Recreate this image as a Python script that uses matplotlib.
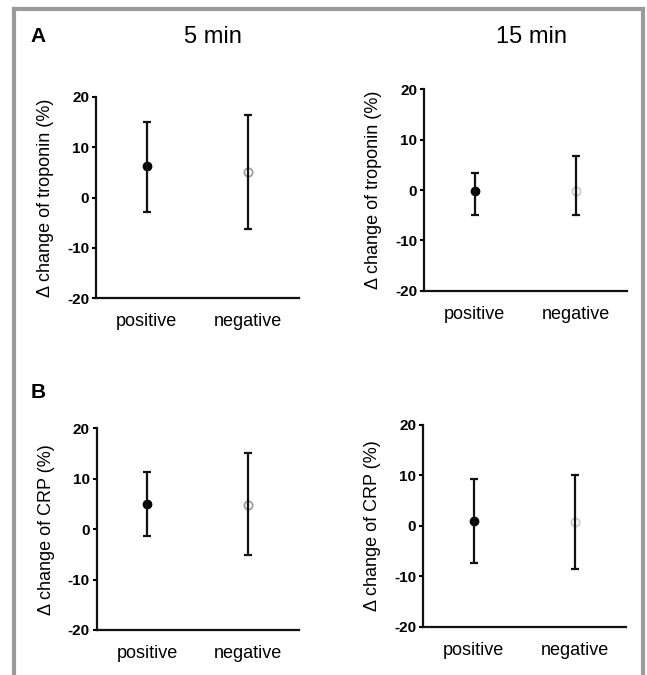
import matplotlib.pyplot as plt
from matplotlib.lines import Line2D

plt.rcParams['font.family'] = ['Liberation Sans', 'DejaVu Sans']

# groups on the x axis
groups = ["positive", "negative"]

# troponin, mean and error bar ends (%)
trop_5_mean = [6.2, 5.0]
trop_5_low = [-2.8, -6.3]
trop_5_high = [15.1, 16.5]
trop_15_mean = [-0.1, -0.1]
trop_15_low = [-5.0, -5.0]
trop_15_high = [3.4, 6.8]

# CRP, mean and error bar ends (%)
crp_5_mean = [5.0, 4.8]
crp_5_low = [-1.3, -5.2]
crp_5_high = [11.3, 15.1]
crp_15_mean = [1.0, 0.7]
crp_15_low = [-7.3, -8.5]
crp_15_high = [9.3, 10.0]

yticks = [-20, -10, 0, 10, 20]

fig = plt.figure(figsize=(6.47, 6.75), dpi=100)

# gray frame, open at the bottom
frame_col = '#9b9b9b'
fig.add_artist(Line2D([14 / 647, 14 / 647], [0, 1 - 9 / 675], color=frame_col, lw=3,
                      transform=fig.transFigure, solid_capstyle='projecting'))
fig.add_artist(Line2D([14 / 647, 643 / 647], [1 - 9 / 675, 1 - 9 / 675], color=frame_col, lw=3,
                      transform=fig.transFigure, solid_capstyle='projecting'))
fig.add_artist(Line2D([643 / 647, 643 / 647], [0, 1 - 9 / 675], color=frame_col, lw=3,
                      transform=fig.transFigure, solid_capstyle='projecting'))


def panel(rect, means, lows, highs, ylabel, neg_col):
    ax = fig.add_axes(rect)
    x = range(len(groups))
    err = [[m - lo for m, lo in zip(means, lows)], [hi - m for m, hi in zip(means, highs)]]
    ax.errorbar(x, means, yerr=err, fmt='none', ecolor='#111111', elinewidth=1.6,
                capsize=3, capthick=1.6, zorder=3)
    ax.plot([0], [means[0]], 'o', color='black', markersize=6, zorder=2)
    ax.plot([1], [means[1]], 'o', mfc='white', mec=neg_col, mew=1.3, markersize=6, zorder=2)
    ax.set_xlim(-0.5, 1.5)
    ax.set_ylim(-20, 20)
    ax.set_yticks(yticks)
    ax.set_yticklabels([str(t) for t in yticks], fontweight='bold', fontsize=11)
    ax.set_xticks(list(x))
    ax.set_xticklabels(groups, fontsize=13)
    ax.tick_params(axis='x', length=0, pad=11)
    ax.tick_params(axis='y', length=3, width=1.5, pad=2)
    for s in ['top', 'right']:
        ax.spines[s].set_visible(False)
    for s in ['left', 'bottom']:
        ax.spines[s].set_linewidth(1.6)
        ax.spines[s].set_color('#111111')
    ax.set_ylabel(ylabel, fontsize=13, labelpad=9)
    return ax


panel([0.1484, 0.5585, 0.3137, 0.2978], trop_5_mean, trop_5_low, trop_5_high,
      "Δ change of troponin (%)", '#a0a0a0')
panel([0.6553, 0.5693, 0.3138, 0.2984], trop_15_mean, trop_15_low, trop_15_high,
      "Δ change of troponin (%)", '#cccccc')
panel([0.1495, 0.0667, 0.3126, 0.2988], crp_5_mean, crp_5_low, crp_5_high,
      "Δ change of CRP (%)", '#a0a0a0')
panel([0.6538, 0.0716, 0.3132, 0.2988], crp_15_mean, crp_15_low, crp_15_high,
      "Δ change of CRP (%)", '#cccccc')

fig.text(38 / 647, 1 - 37 / 675, "A", fontsize=15, fontweight='bold', ha='center', va='center')
fig.text(38 / 647, 1 - 393 / 675, "B", fontsize=15, fontweight='bold', ha='center', va='center')
fig.text(213 / 647, 1 - 37 / 675, "5 min", fontsize=17, ha='center', va='center')
fig.text(532 / 647, 1 - 37 / 675, "15 min", fontsize=17, ha='center', va='center')

fig.savefig("out.png", dpi=100)
